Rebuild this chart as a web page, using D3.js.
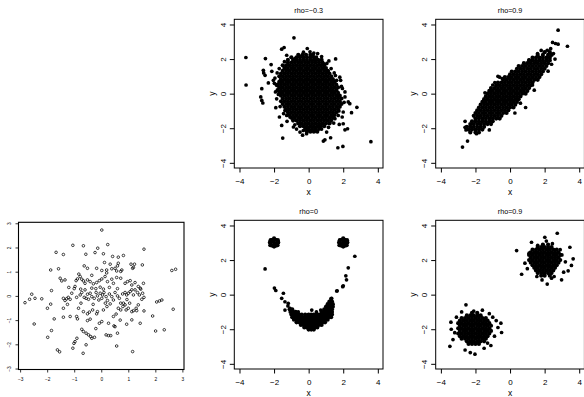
<!DOCTYPE html>
<html><head><meta charset="utf-8">
<script src="https://cdn.jsdelivr.net/npm/d3@7"></script>
<style>html,body{margin:0;padding:0;background:#fff;} svg{display:block;}</style>
</head><body><svg id="c" width="584" height="397"></svg>
<script>
// ---------- tick labels & titles ----------
const bigTicks = [-4, -2, 0, 2, 4];
const smallTicks = [-3, -2, -1, 0, 1, 2, 3];
const titles = ["rho=−0.3", "rho=0.9", "rho=0", "rho=0.9"];

// ---------- panel A: rho=-0.3 (rows: [y, "x values"]) ----------
const negCoreRows = [
 [2.25,"-0.6 -0.35 -0.15 0.1 0.25"],
 [2.1,"-1.0 -0.7 -0.5 -0.3 -0.1 0.1 0.3"],
 [1.95,"-1.2 -0.9 -0.7 -0.5 -0.3 -0.1 0.1 0.3 0.55 0.75"],
 [1.8,"-1.2 -1.0 -0.8 -0.6 -0.4 -0.2 0 0.2 0.4 0.6 0.8"],
 [1.64,"-1.5 -1.3 -1.1 -0.9 -0.7 -0.5 -0.3 -0.1 0.1 0.3 0.5 0.7 0.9"],
 [1.48,"-1.4 -1.2 -1.0 -0.8 -0.6 -0.4 -0.2 0 0.2 0.4 0.6 0.8 1.0"],
 [1.32,"-1.5 -1.3 -1.1 -0.9 -0.7 -0.5 -0.3 -0.1 0.1 0.3 0.5 0.7 0.9 1.1"],
 [1.16,"-1.6 -1.4 -1.2 -1.0 -0.8 -0.6 -0.4 -0.2 0 0.2 0.4 0.6 0.8 1.0 1.2"],
 [1.0,"-1.7 -1.5 -1.3 -1.1 -0.9 -0.7 -0.5 -0.3 -0.1 0.1 0.3 0.5 0.7 0.9 1.1 1.3"],
 [0.84,"-1.6 -1.4 -1.2 -1.0 -0.8 -0.6 -0.4 -0.2 0 0.2 0.4 0.6 0.8 1.0 1.2 1.4"],
 [0.68,"-1.7 -1.5 -1.3 -1.1 -0.9 -0.7 -0.5 -0.3 -0.1 0.1 0.3 0.5 0.7 0.9 1.1 1.3 1.5"],
 [0.52,"-1.8 -1.6 -1.4 -1.2 -1.0 -0.8 -0.6 -0.4 -0.2 0 0.2 0.4 0.6 0.8 1.0 1.2 1.4 1.6"],
 [0.36,"-1.7 -1.5 -1.3 -1.1 -0.9 -0.7 -0.5 -0.3 -0.1 0.1 0.3 0.5 0.7 0.9 1.1 1.3 1.5 1.7"],
 [0.2,"-1.8 -1.6 -1.4 -1.2 -1.0 -0.8 -0.6 -0.4 -0.2 0 0.2 0.4 0.6 0.8 1.0 1.2 1.4 1.6"],
 [0.04,"-1.7 -1.5 -1.3 -1.1 -0.9 -0.7 -0.5 -0.3 -0.1 0.1 0.3 0.5 0.7 0.9 1.1 1.3 1.5 1.7"],
 [-0.12,"-1.6 -1.4 -1.2 -1.0 -0.8 -0.6 -0.4 -0.2 0 0.2 0.4 0.6 0.8 1.0 1.2 1.4 1.6 1.8"],
 [-0.28,"-1.5 -1.3 -1.1 -0.9 -0.7 -0.5 -0.3 -0.1 0.1 0.3 0.5 0.7 0.9 1.1 1.3 1.5 1.7 1.9"],
 [-0.44,"-1.6 -1.4 -1.2 -1.0 -0.8 -0.6 -0.4 -0.2 0 0.2 0.4 0.6 0.8 1.0 1.2 1.4 1.6 1.8"],
 [-0.6,"-1.5 -1.3 -1.1 -0.9 -0.7 -0.5 -0.3 -0.1 0.1 0.3 0.5 0.7 0.9 1.1 1.3 1.5 1.7 1.9"],
 [-0.76,"-1.4 -1.2 -1.0 -0.8 -0.6 -0.4 -0.2 0 0.2 0.4 0.6 0.8 1.0 1.2 1.4 1.6 1.8"],
 [-0.92,"-1.3 -1.1 -0.9 -0.7 -0.5 -0.3 -0.1 0.1 0.3 0.5 0.7 0.9 1.1 1.3 1.5 1.7"],
 [-1.08,"-1.2 -1.0 -0.8 -0.6 -0.4 -0.2 0 0.2 0.4 0.6 0.8 1.0 1.2 1.4 1.6"],
 [-1.24,"-1.1 -0.9 -0.7 -0.5 -0.3 -0.1 0.1 0.3 0.5 0.7 0.9 1.1 1.3 1.5"],
 [-1.4,"-1.0 -0.8 -0.6 -0.4 -0.2 0 0.2 0.4 0.6 0.8 1.0 1.2 1.4"],
 [-1.56,"-0.9 -0.7 -0.5 -0.3 -0.1 0.1 0.3 0.5 0.7 0.9 1.1 1.3"],
 [-1.72,"-0.6 -0.4 -0.2 0 0.2 0.4 0.6 0.8 1.0 1.2"],
 [-1.88,"-0.5 -0.3 -0.1 0.1 0.3 0.5 0.7 0.9"],
 [-2.04,"-0.2 0 0.2 0.4 0.6"],
 [-2.2,"-0.1 0.1 0.3 0.5"]
];
const negOutliers = [
 [-3.63,2.09],[-3.62,0.50],[-2.5,2.03],[-2.17,1.68],[-2.62,1.35],[-2.6,1.2],[-2.52,1.06],[-2.33,0.62],
 [-2.71,0.29],[-2.77,-0.19],[-2.71,-0.39],[-2.65,-0.54],[-1.9,-0.81],[-1.56,2.57],[-1.42,2.67],[-0.85,3.23],
 [-1.56,-1.84],[-1.5,-2.57],[-0.88,-1.93],[-0.08,2.61],[0.52,2.32],[1.17,1.89],[1.56,2.01],[1.13,1.31],
 [1.85,0.77],[1.9,0.42],[2.1,-0.19],[2.29,-0.48],[2.38,-0.58],[2.79,-0.79],[2.48,-1.1],[1.94,-1.35],
 [1.77,-1.78],[2.0,-1.74],[2.25,-2.03],[2.1,-2.09],[1.27,-2.55],[0.85,-2.74],[0.94,-2.67],[1.69,-3.13],
 [1.98,-3.05],[3.6,-2.78],[-0.12,-2.32],[-0.31,-2.13],[0.08,-2.13],[-2.04,0.77],[-1.85,0.48],[-2.13,1.29],
 [-1.27,2.22],[-0.79,2.03],[-0.5,2.16],[0.08,2.42],[0.42,1.97],[0.85,1.74],[0.94,1.45],[1.48,1.2],[1.62,0.77],
 [-0.5,-2.22],[0.42,-2.16],[0.71,-1.89],[1.04,-2.22],[1.23,-1.7],[1.52,-1.45],[1.71,-1.26],[2.0,-1.06],
 [-1.08,-1.35],[-1.27,-1.26],[-1.37,-0.97],[-1.69,-1.35],
 [-1.95,0.9],[-1.92,0.1],[-1.85,-0.3],[-1.65,-0.75],[-1.45,-1.15],[-1.25,-1.6],[-0.8,-1.8],[-0.7,-2.05],
 [-0.35,-2.4],[0.75,-2.05],[1.15,-1.95],[1.45,-1.7],[1.75,-1.0],[2.05,-0.5],[2.1,0.1],[1.95,0.3],
 [1.8,0.95],[1.55,1.05],[1.3,1.45],[1.05,1.75],[0.75,2.15],[0.45,2.12],[-1.4,1.85],[-1.7,1.45],
 [-1.82,1.2],[-1.98,0.6],[0.3,2.35],[-0.3,2.4],[1.7,-0.2],[-1.75,-0.05]
];

// ---------- panel B: rho=0.9 ----------
const posCoreRows = [
 [2.4,"2.0 2.3"],
 [2.24,"1.6 1.9 2.2 2.4"],
 [2.08,"1.3 1.5 1.7 1.9 2.1 2.3"],
 [1.92,"1.1 1.3 1.5 1.7 1.9 2.1 2.3"],
 [1.76,"0.8 1.0 1.2 1.4 1.6 1.8 2.0 2.2"],
 [1.6,"0.5 0.7 0.9 1.1 1.3 1.5 1.7 1.9 2.1"],
 [1.44,"0.4 0.6 0.8 1.0 1.2 1.4 1.6 1.8 2.0"],
 [1.28,"0.1 0.3 0.5 0.7 0.9 1.1 1.3 1.5 1.7 1.9"],
 [1.12,"0.0 0.2 0.4 0.6 0.8 1.0 1.2 1.4 1.6 1.8"],
 [0.96,"-0.3 -0.1 0.1 0.3 0.5 0.7 0.9 1.1 1.3 1.5 1.7"],
 [0.8,"-0.4 -0.2 0 0.2 0.4 0.6 0.8 1.0 1.2 1.4 1.6"],
 [0.64,"-0.7 -0.5 -0.3 -0.1 0.1 0.3 0.5 0.7 0.9 1.1 1.3"],
 [0.48,"-0.8 -0.6 -0.4 -0.2 0 0.2 0.4 0.6 0.8 1.0 1.2"],
 [0.32,"-1.1 -0.9 -0.7 -0.5 -0.3 -0.1 0.1 0.3 0.5 0.7 0.9 1.1"],
 [0.16,"-1.2 -1.0 -0.8 -0.6 -0.4 -0.2 0 0.2 0.4 0.6 0.8 1.0"],
 [0,"-1.3 -1.1 -0.9 -0.7 -0.5 -0.3 -0.1 0.1 0.3 0.5 0.7 0.9"],
 [-0.16,"-1.4 -1.2 -1.0 -0.8 -0.6 -0.4 -0.2 0 0.2 0.4 0.6"],
 [-0.32,"-1.5 -1.3 -1.1 -0.9 -0.7 -0.5 -0.3 -0.1 0.1 0.3 0.5"],
 [-0.48,"-1.6 -1.4 -1.2 -1.0 -0.8 -0.6 -0.4 -0.2 0 0.2 0.4"],
 [-0.64,"-1.7 -1.5 -1.3 -1.1 -0.9 -0.7 -0.5 -0.3 -0.1 0.1 0.3"],
 [-0.8,"-1.8 -1.6 -1.4 -1.2 -1.0 -0.8 -0.6 -0.4 -0.2 0 0.2"],
 [-0.96,"-1.9 -1.7 -1.5 -1.3 -1.1 -0.9 -0.7 -0.5 -0.3 -0.1"],
 [-1.12,"-2.0 -1.8 -1.6 -1.4 -1.2 -1.0 -0.8 -0.6 -0.4 -0.2"],
 [-1.28,"-2.1 -1.9 -1.7 -1.5 -1.3 -1.1 -0.9 -0.7 -0.5"],
 [-1.44,"-2.0 -1.8 -1.6 -1.4 -1.2 -1.0 -0.8 -0.6"],
 [-1.6,"-2.2 -2.0 -1.8 -1.6 -1.4 -1.2 -1.0"],
 [-1.76,"-2.3 -2.1 -1.9 -1.7 -1.5 -1.3 -1.1"],
 [-1.92,"-2.5 -2.3 -2.1 -1.9 -1.7 -1.5"],
 [-2.08,"-2.4 -2.2 -2.0 -1.8 -1.6"],
 [-2.24,"-2.3 -2.0 -1.8"]
];
const posOutliers = [
 [-2.75,-3.09],[-2.46,-2.74],[2.78,3.67],[3.32,2.74],[2.46,2.96],[2.63,2.9],[2.78,2.86],[2.51,2.32],
 [2.15,2.51],[1.59,2.32],[-0.88,0.64],[-0.45,0.87],[0.28,-1.12],[-1.94,-2.32],[-2.3,-1.9],[-2.6,-1.95],
 [-2.55,-2.1],[2.6,2.0],[2.4,1.7],[-0.7,1.0],[-1.0,0.5],[0.9,-0.8],[1.4,0.2],[-2.6,-1.6],[-1.2,-2.1],
 [1.8,2.5],[2.35,2.6],[1.3,0.5],[0.6,-0.55],[-1.45,0.05],[2.2,1.3],[1.1,1.95],[-0.1,-0.95],[-0.6,0.95]
];

// ---------- panel C: smile (rho=0) ----------
const smileEyes = [
 [-2.0,3.0],[-2.2,3.0],[-1.8,3.0],[-2.1,3.17],[-1.9,3.17],[-2.1,2.83],[-1.9,2.83],[-2.0,3.25],[-2.0,2.78],
 [-2.22,2.86],[-1.78,3.15],[-2.2,3.15],[-1.8,2.86],[-1.76,3.02],[-2.24,3.02],[-2.05,3.1],[-1.95,2.92],
 [2.0,3.0],[1.8,3.0],[2.2,3.0],[1.9,3.17],[2.1,3.17],[1.9,2.83],[2.1,2.83],[2.0,3.25],[2.0,2.78],
 [1.78,2.86],[2.22,3.15],[1.8,3.15],[2.2,2.86],[2.24,3.02],[1.76,3.02],[2.05,3.1],[1.95,2.92]
];
const smileMouthRows = [
 [-0.25,"1.3"],
 [-0.4,"1.2 1.35"],
 [-0.55,"1.1 1.25 1.4"],
 [-0.7,"1.0 1.15 1.3 1.4"],
 [-0.85,"-1.1 -0.95 0.9 1.05 1.2 1.35"],
 [-1.0,"-1.05 -0.9 -0.75 0.75 0.9 1.05 1.2 1.35"],
 [-1.15,"-1.0 -0.85 -0.7 -0.55 -0.4 -0.2 0 0.15 0.3 0.45 0.6 0.75 0.9 1.05 1.2 1.35"],
 [-1.3,"-0.95 -0.8 -0.65 -0.5 -0.35 -0.2 -0.05 0.1 0.25 0.4 0.55 0.7 0.85 1.0 1.15 1.3"],
 [-1.45,"-0.85 -0.7 -0.55 -0.4 -0.25 -0.1 0.05 0.2 0.35 0.5 0.65 0.8 0.95 1.1"],
 [-1.6,"-0.7 -0.55 -0.4 -0.25 -0.1 0.05 0.2 0.35 0.5 0.65 0.8 0.95"],
 [-1.75,"-0.45 -0.3 -0.15 0 0.15 0.3 0.45 0.6 0.75"],
 [-1.9,"-0.25 -0.1 0.05 0.2 0.35 0.5"],
 [-2.02,"0 0.15 0.3"]
];
const smileExtra = [
 [-2.52,1.49],[2.67,2.22],[2.29,1.55],[2.15,1.09],[2.19,0.86],[2.0,0.51],[1.65,0.22],[1.97,0.46],
 [-1.98,0.38],[-1.9,0.24],[-1.46,0.08],[-1.56,-0.21],[-1.37,-0.41],[-1.18,-0.5],[-1.37,-0.89],
 [-1.08,-0.79],[-1.2,-0.65],[0.18,-0.89],[0.7,-0.89],[1.33,-0.21],[1.62,0.21],[-0.6,-1.0],[0.45,-1.0]
];

// ---------- panel D: two clusters ----------
const upperRows = [
 [2.9,"1.9 2.2"],
 [2.75,"1.6 1.8 2.0 2.2 2.4"],
 [2.6,"1.3 1.5 1.7 1.9 2.1 2.3 2.5 2.7"],
 [2.45,"1.2 1.4 1.6 1.8 2.0 2.2 2.4 2.6 2.8"],
 [2.3,"1.1 1.3 1.5 1.7 1.9 2.1 2.3 2.5 2.7 2.9"],
 [2.15,"1.2 1.4 1.6 1.8 2.0 2.2 2.4 2.6 2.8"],
 [2.0,"1.1 1.3 1.5 1.7 1.9 2.1 2.3 2.5 2.7 2.9"],
 [1.85,"1.2 1.4 1.6 1.8 2.0 2.2 2.4 2.6 2.8"],
 [1.7,"1.3 1.5 1.7 1.9 2.1 2.3 2.5 2.7"],
 [1.55,"1.4 1.6 1.8 2.0 2.2 2.4 2.6"],
 [1.4,"1.5 1.7 1.9 2.1 2.3 2.5"],
 [1.25,"1.6 1.8 2.0 2.2 2.4"],
 [1.1,"1.8 2.0 2.3"]
];
const upperExtra = [
 [0.38,2.55],[0.67,1.18],[2.73,3.55],[2.01,3.32],[1.24,3.03],[3.46,2.74],[3.65,2.07],[3.55,1.69],
 [3.36,1.38],[2.98,0.86],[2.15,0.61],[2.55,1.05],[0.86,1.82],[3.1,1.3],[3.2,1.9],[1.0,1.5],[1.1,2.4],
 [2.9,2.6],[1.55,1.05],[1.85,0.85],[2.4,0.95],[3.0,2.3],[1.6,2.85],[2.45,2.95],[2.1,3.1]
];
const lowerRows = [
 [-1.05,"-2.2 -1.9"],
 [-1.2,"-2.5 -2.3 -2.1 -1.9 -1.7"],
 [-1.35,"-2.8 -2.6 -2.4 -2.2 -2.0 -1.8 -1.6 -1.4"],
 [-1.5,"-2.9 -2.7 -2.5 -2.3 -2.1 -1.9 -1.7 -1.5 -1.3"],
 [-1.65,"-3.0 -2.8 -2.6 -2.4 -2.2 -2.0 -1.8 -1.6 -1.4 -1.2"],
 [-1.8,"-2.9 -2.7 -2.5 -2.3 -2.1 -1.9 -1.7 -1.5 -1.3 -1.1"],
 [-1.95,"-3.0 -2.8 -2.6 -2.4 -2.2 -2.0 -1.8 -1.6 -1.4 -1.2"],
 [-2.1,"-2.9 -2.7 -2.5 -2.3 -2.1 -1.9 -1.7 -1.5 -1.3 -1.1"],
 [-2.25,"-3.0 -2.8 -2.6 -2.4 -2.2 -2.0 -1.8 -1.6 -1.4 -1.2"],
 [-2.4,"-2.9 -2.7 -2.5 -2.3 -2.1 -1.9 -1.7 -1.5 -1.3"],
 [-2.55,"-2.8 -2.6 -2.4 -2.2 -2.0 -1.8 -1.6 -1.4"],
 [-2.7,"-2.5 -2.3 -2.1 -1.9 -1.7 -1.5"],
 [-2.85,"-2.4 -2.2 -2.0 -1.8"]
];
const lowerExtra = [
 [-2.55,-0.59],[-3.42,-1.59],[-3.48,-2.99],[-2.03,-3.44],[-0.49,-2.19],[-0.53,-1.65],[-1.11,-2.94],
 [-1.6,-0.9],[-2.1,-0.95],[-1.0,-1.3],[-0.8,-1.5],[-3.2,-2.2],[-3.3,-2.6],[-3.1,-1.3],[-2.6,-3.2],
 [-2.3,-3.35],[-1.5,-3.1],[-0.9,-2.4],[-1.2,-1.1],[-2.8,-1.0],[-3.4,-2.0],[-1.3,-2.8],[-0.7,-1.9]
];

// ---------- panel E: open circles ----------
const openPoints = [
 [0.02,2.72],[-1.05,2.09],[-0.66,2.07],[0.24,2.12],[-0.13,1.97],[1.58,1.93],[-1.67,1.80],[-1.40,1.71],
 [-0.57,1.72],[-0.23,1.79],[0.08,1.74],[0.42,1.63],[0.63,1.60],[0.82,1.67],
 [0.12,1.38],[0.33,1.31],[0.63,1.35],[0.60,1.24],[1.10,1.31],[1.23,1.31],[1.19,1.18],[1.52,1.28],[1.16,1.14],
 [-1.87,1.07],[-1.58,1.12],[-0.63,1.24],[-0.51,1.14],[-0.17,1.14],[0.02,1.05],[0.20,1.07],[0.39,1.12],
 [0.51,1.14],[0.57,1.03],[0.72,1.01],[0.76,1.07],[2.61,1.05],[2.75,1.10],
 [-1.52,0.73],[-1.46,0.62],[-1.34,0.66],[-0.83,0.90],[-0.78,0.80],[-0.88,0.70],[-0.93,0.63],[-0.72,0.69],
 [-0.66,0.62],[-0.60,0.52],[-0.51,0.66],[-0.41,0.59],[-0.29,0.50],[-0.17,0.55],[-0.07,0.63],[0.02,0.70],
 [0.14,0.80],[0.23,0.59],[0.39,0.69],[0.45,0.52],[0.57,0.76],[0.72,0.73],[0.88,0.52],[0.97,0.59],[1.07,0.63],
 [1.13,0.45],[1.44,0.32],[1.56,0.52],[1.37,0.39],[-0.97,0.39],[-0.76,0.28],[-0.04,0.36],[0.08,0.28],
 [-1.84,0.22],[-0.35,0.32],
 [-2.82,-0.28],[-2.57,0.07],[-2.65,-0.14],[-2.45,-0.10],[-2.20,-0.12],[-1.87,-0.34],[-1.40,-0.10],
 [-1.34,-0.19],[-1.28,-0.12],[-1.22,-0.06],[-1.09,0.11],[-1.15,-0.14],[-0.91,-0.06],[-0.78,0.04],
 [-0.72,0.14],[-0.63,-0.06],[-0.56,-0.10],[-0.51,0.07],[-0.47,-0.14],[-0.41,0.11],[-0.35,-0.03],
 [-0.26,-0.10],[-0.19,0.14],[-0.14,0.0],[-0.09,-0.17],[-0.04,0.11],[0.02,-0.10],[0.05,0.04],[0.10,0.14],
 [0.18,-0.03],[0.23,-0.19],[0.30,0.08],[0.39,-0.03],[0.45,-0.17],[0.51,0.14],[0.60,0.0],[0.67,-0.10],
 [0.72,-0.30],[0.79,0.08],[0.88,0.14],[0.94,0.04],[1.00,0.11],[1.07,0.18],[1.13,0.25],[1.19,0.04],
 [1.25,0.25],[1.34,0.14],[1.41,0.04],[1.46,0.28],[1.53,0.11],[1.58,-0.06],[1.50,-0.14],[2.15,-0.21],
 [2.24,-0.17],[2.05,-0.25],[0.82,-0.30],[0.88,-0.37],
 [-1.99,-0.51],[-1.74,-0.95],[-2.48,-1.16],[-1.40,-0.88],[-1.40,-0.51],[-1.15,-0.85],[-0.91,-0.85],
 [-0.88,-0.95],[-0.84,-0.51],[-0.66,-0.65],[-0.51,-0.74],[-0.44,-0.67],[-0.32,-0.58],[-0.14,-0.65],
 [0.08,-0.58],[0.21,-0.44],[0.33,-0.33],[0.45,-0.85],[0.63,-0.51],[0.72,-0.58],[0.80,-0.44],[0.92,-0.58],
 [1.00,-0.51],[1.13,-0.65],[1.19,-0.61],[1.29,-0.51],[1.37,-0.37],[1.58,-0.62],[1.31,-0.61],[1.90,-0.83],
 [2.66,-0.55],[-0.41,-0.96],[-0.51,-1.02],[-0.17,-0.74],[-0.07,-1.13],[0.02,-1.06],[1.13,-0.99],
 [0.94,-1.17],[1.44,-1.13],[0.27,-1.13],
 [-1.84,-1.43],[-1.98,-1.71],[-0.72,-1.38],[-0.66,-1.47],[-0.56,-1.54],[-0.47,-1.61],[-0.39,-1.68],
 [-0.35,-1.75],[-0.25,-1.71],[-0.90,-1.75],[-0.97,-1.89],[-1.01,-1.96],[-1.05,-2.16],[-1.62,-2.23],
 [-1.54,-2.31],[-0.67,-2.37],[-0.56,-2.02],[0.18,-1.61],[0.27,-1.64],[0.35,-1.64],[0.60,-1.54],
 [0.57,-2.07],[0.51,-1.27],[0.47,-1.24],[1.16,-2.30],[2.01,-1.45],[2.33,-1.40],
 [-0.2,0.3],[0.3,0.35],[-0.6,0.25],[0.6,0.3],[-0.3,-0.35],[0.15,-0.3],[-0.75,-0.3],[0.95,-0.15],
 [-1.0,0.3],[1.25,0.55],[-0.35,0.85],[0.2,0.95],[-1.2,0.35],[0.55,-0.75],[-0.2,-1.35],[0.7,-1.0],
 [-1.25,-0.35],[1.05,-0.3]
];

// ---------- helpers ----------
function fromRows(rows) {
  const pts = [];
  rows.forEach(([y, xs]) => xs.trim().split(/\s+/).forEach(v => pts.push([+v, y])));
  return pts;
}
const FONT = "'Liberation Sans', Arial, Helvetica, sans-serif";
const fmt = d => (d < 0 ? "−" + Math.abs(d) : String(d));
const svg = d3.select("#c");

function drawPanel(c) {
  const g = svg.append("g").attr("transform", `translate(${c.left},${c.top})`);
  const x = d3.scaleLinear().domain(c.xDomain).range([0, c.w]);
  const y = d3.scaleLinear().domain(c.yDomain).range([c.h, 0]);

  const layers = [[c.core || [], c.rCore || c.r], [c.points, c.r]];
  layers.forEach(([pts, rad]) => {
    const dots = g.append("g").selectAll("circle").data(pts).join("circle")
      .attr("cx", d => x(d[0])).attr("cy", d => y(d[1])).attr("r", rad);
    if (c.open) dots.attr("fill", "none").attr("stroke", "#000").attr("stroke-width", 0.75);
    else dots.attr("fill", "#000");
  });

  g.append("rect").attr("width", c.w).attr("height", c.h)
    .attr("fill", "none").attr("stroke", "#000").attr("stroke-width", c.bw);

  const xa = g.append("g").attr("transform", `translate(0,${c.h})`)
    .call(d3.axisBottom(x).tickValues(c.ticks).tickSize(c.tick).tickPadding(c.xpad).tickFormat(fmt));
  xa.select(".domain").remove();
  xa.attr("font-family", FONT).attr("font-size", c.fs);
  xa.selectAll("line").attr("stroke", "#000").attr("stroke-width", c.tw);
  xa.selectAll("text").attr("fill", "#000");

  const ya = g.append("g")
    .call(d3.axisLeft(y).tickValues(c.ticks).tickSize(c.tick).tickFormat(fmt));
  ya.select(".domain").remove();
  ya.attr("font-family", FONT).attr("font-size", c.fs);
  ya.selectAll("line").attr("stroke", "#000").attr("stroke-width", c.tw);
  ya.selectAll("text").attr("fill", "#000")
    .attr("transform", "rotate(-90)").attr("x", 0).attr("y", -c.ylab).attr("dy", null)
    .attr("text-anchor", "middle");

  if (c.title) {
    g.append("text").attr("x", c.w / 2).attr("y", -6)
      .attr("text-anchor", "middle").attr("font-family", FONT).attr("font-size", 7.2)
      .attr("fill", "#000").text(c.title);
  }
  if (c.axisTitles) {
    g.append("text").attr("x", c.w / 2).attr("y", c.h + 27)
      .attr("text-anchor", "middle").attr("font-family", FONT).attr("font-size", 8.5)
      .attr("fill", "#000").text("x");
    g.append("text").attr("transform", "rotate(-90)").attr("x", -c.h / 2).attr("y", -19.8)
      .attr("text-anchor", "middle").attr("font-family", FONT).attr("font-size", 8.5)
      .attr("fill", "#000").text("y");
  }
}

const big = { w: 148.7, h: 148.7, xDomain: [-4.3, 4.3], yDomain: [-4.3, 4.3], ticks: bigTicks,
  r: 1.85, rCore: 2.1, bw: 1, tw: 1, tick: 4.5, xpad: 6.3, fs: 8, ylab: 8.8, axisTitles: true };

drawPanel(Object.assign({}, big, { left: 234.3, top: 19.3, title: titles[0],
  core: fromRows(negCoreRows), points: negOutliers }));
drawPanel(Object.assign({}, big, { left: 435.7, top: 19.3, title: titles[1],
  core: fromRows(posCoreRows), points: posOutliers }));
drawPanel(Object.assign({}, big, { left: 234.3, top: 220.3, title: titles[2],
  core: smileEyes.concat(fromRows(smileMouthRows)), points: smileExtra }));
drawPanel(Object.assign({}, big, { left: 435.7, top: 220.3, title: titles[3],
  core: fromRows(upperRows).concat(fromRows(lowerRows)), points: upperExtra.concat(lowerExtra) }));

drawPanel({ left: 18.5, top: 222.3, w: 165.5, h: 147.2, xDomain: [-3.06, 3.06], yDomain: [-3.04, 3.04],
  ticks: smallTicks, points: openPoints, open: true, r: 1.3, bw: 1.1, tw: 0.8, tick: 3, xpad: 5.1,
  fs: 4.8, ylab: 7.5, axisTitles: false });
</script>
</body></html>
